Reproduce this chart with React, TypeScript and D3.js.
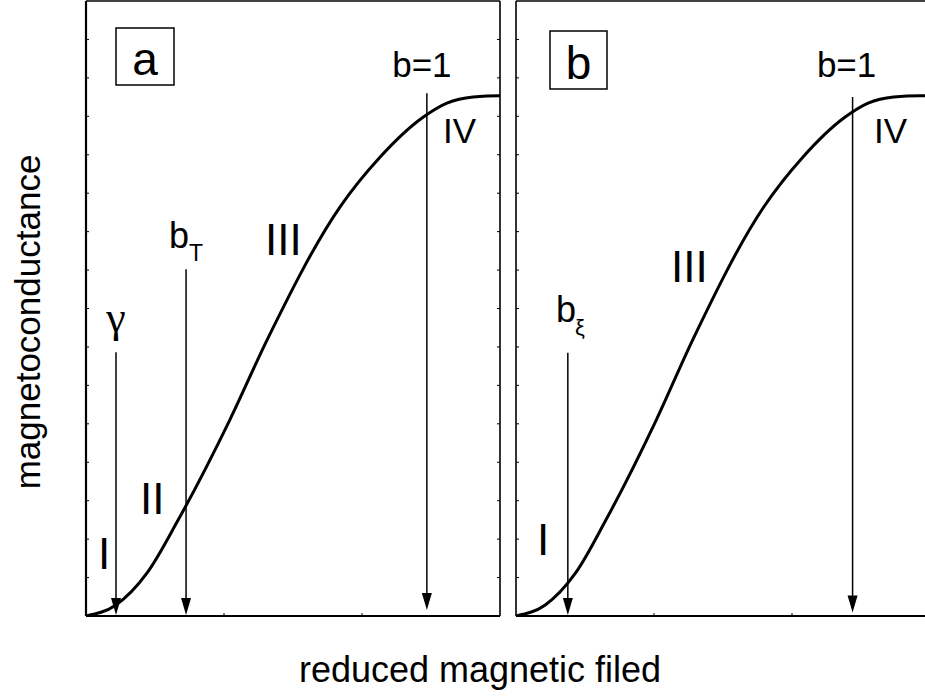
import React from "react";
import * as d3 from "d3";

// Reduced field (x) and magnetoconductance (y, arbitrary units) along the curve
const fieldValues = [0, 0.087, 0.177, 0.267, 0.417, 0.525, 0.736, 0.852, 0.977, 1.046, 1.122, 1.2, 1.23];
const conductValues = [0, 0.018, 0.07, 0.156, 0.319, 0.449, 0.665, 0.746, 0.811, 0.834, 0.844, 0.846, 0.846];

// Characteristic fields marked by arrows (x position, top and tip of arrow in y units)
const markersA = [
  { x: 0.087, top: 0.429, tip: 0.0 },
  { x: 0.29, top: 0.564, tip: 0.0 },
  { x: 0.988, top: 0.85, tip: 0.008 },
];
const markersB = [
  { x: 0.154, top: 0.428, tip: 0.0 },
  { x: 1.0, top: 0.844, tip: 0.004 },
];

const W = 925;
const H = 698;
const FONT = "'Liberation Sans', Arial, Helvetica, sans-serif";
const SERIF = "'Liberation Serif', 'DejaVu Serif', serif";

const top = 1;
const bottom = 616;
const panelW = 414;

type Panel = {
  id: string;
  left: number;
  xMax: number;
  markers: { x: number; top: number; tip: number }[];
};

const panels: Panel[] = [
  { id: "a", left: 86, xMax: 1.2, markers: markersA },
  { id: "b", left: 516, xMax: 1.23, markers: markersB },
];

const yScale = d3.scaleLinear().domain([0, 1]).range([bottom, top]);
const yTickVals = d3.range(1, 16).map((i) => i / 16);

function PanelView({ p }: { p: Panel }) {
  const x = d3.scaleLinear().domain([0, p.xMax]).range([p.left, p.left + panelW]);
  const pts = fieldValues.map((v, i) => [v, conductValues[i]] as [number, number]);
  const line = d3
    .line<[number, number]>()
    .x((d) => x(d[0]))
    .y((d) => yScale(d[1]))
    .curve(d3.curveMonotoneX);
  const right = p.left + panelW;
  const xTicks = [p.xMax / 3, (2 * p.xMax) / 3];
  const clipId = `clip-${p.id}`;
  return (
    <g>
      <defs>
        <clipPath id={clipId}>
          <rect x={p.left} y={top} width={panelW} height={bottom - top} />
        </clipPath>
      </defs>
      {/* frame */}
      <line x1={p.left} x2={right} y1={top} y2={top} stroke="#000" strokeWidth={1.6} />
      <line x1={p.left} x2={right} y1={bottom} y2={bottom} stroke="#000" strokeWidth={2.2} />
      <line x1={p.left} x2={p.left} y1={top} y2={bottom} stroke="#000" strokeWidth={p.id === "a" ? 2.2 : 1.6} />
      <line x1={right} x2={right} y1={top} y2={bottom} stroke="#000" strokeWidth={1.6} />
      {/* minor ticks */}
      {yTickVals.map((v, i) => (
        <g key={i}>
          <line x1={p.left} x2={p.left + 3} y1={yScale(v)} y2={yScale(v)} stroke="#000" strokeWidth={1} />
          <line x1={right} x2={right - 3} y1={yScale(v)} y2={yScale(v)} stroke="#000" strokeWidth={1} />
        </g>
      ))}
      {xTicks.map((v, i) => (
        <line key={i} x1={x(v)} x2={x(v)} y1={bottom} y2={bottom - 3} stroke="#000" strokeWidth={1} />
      ))}
      {/* curve */}
      <path d={line(pts) || ""} fill="none" stroke="#000" strokeWidth={3} clipPath={`url(#${clipId})`} />
      {/* arrows */}
      {p.markers.map((m, i) => {
        const ax = x(m.x);
        const tipY = yScale(m.tip) - 1;
        const headLen = 17;
        const headHalf = 5;
        return (
          <g key={i}>
            <line x1={ax} x2={ax} y1={yScale(m.top)} y2={tipY - headLen + 2} stroke="#000" strokeWidth={1.5} />
            <path
              d={`M${ax - headHalf},${tipY - headLen} L${ax + headHalf},${tipY - headLen} L${ax},${tipY} Z`}
              fill="#000"
            />
          </g>
        );
      })}
    </g>
  );
}

export default function App() {
  const xa = d3.scaleLinear().domain([0, 1.2]).range([86, 86 + panelW]);
  const xb = d3.scaleLinear().domain([0, 1.23]).range([516, 516 + panelW]);
  return (
    <svg
      width={W}
      height={H}
      style={{ position: "absolute", left: 0, top: 0, background: "#fff" }}
      fontFamily={FONT}
    >
      <rect x={0} y={0} width={W} height={H} fill="#fff" />
      {panels.map((p) => (
        <PanelView key={p.id} p={p} />
      ))}

      {/* panel labels */}
      <rect x={116} y={28} width={58} height={57} fill="none" stroke="#000" strokeWidth={1.5} />
      <text x={145} y={75} fontSize={46} textAnchor="middle">a</text>
      <rect x={550} y={31} width={57} height={58} fill="none" stroke="#000" strokeWidth={1.5} />
      <text x={578.5} y={79} fontSize={46} textAnchor="middle">b</text>

      {/* panel a annotations */}
      <text x={xa(0.988) - 5} y={77} fontSize={35} textAnchor="middle">b=1</text>
      <text x={443} y={143} fontSize={35}>IV</text>
      <text x={265} y={255} fontSize={44}>III</text>
      <text x={140} y={514} fontSize={44}>II</text>
      <text x={98} y={569} fontSize={44}>I</text>
      <text x={xa(0.087)} y={332} fontSize={44} textAnchor="middle" fontFamily={SERIF}>γ</text>
      <text x={169} y={248} fontSize={36}>b</text>
      <text x={189} y={261} fontSize={23}>T</text>

      {/* panel b annotations */}
      <text x={xb(1.0) - 6} y={77} fontSize={35} textAnchor="middle">b=1</text>
      <text x={874} y={143} fontSize={35}>IV</text>
      <text x={671} y={282} fontSize={44}>III</text>
      <text x={537} y={555} fontSize={44}>I</text>
      <text x={556} y={322} fontSize={36}>b</text>
      <text x={575} y={335} fontSize={22}>ξ</text>

      {/* axis titles */}
      <text x={480} y={682} fontSize={36} textAnchor="middle">reduced magnetic filed</text>
      <text transform="translate(40,322) rotate(-90)" fontSize={35} textAnchor="middle">magnetoconductance</text>
    </svg>
  );
}
